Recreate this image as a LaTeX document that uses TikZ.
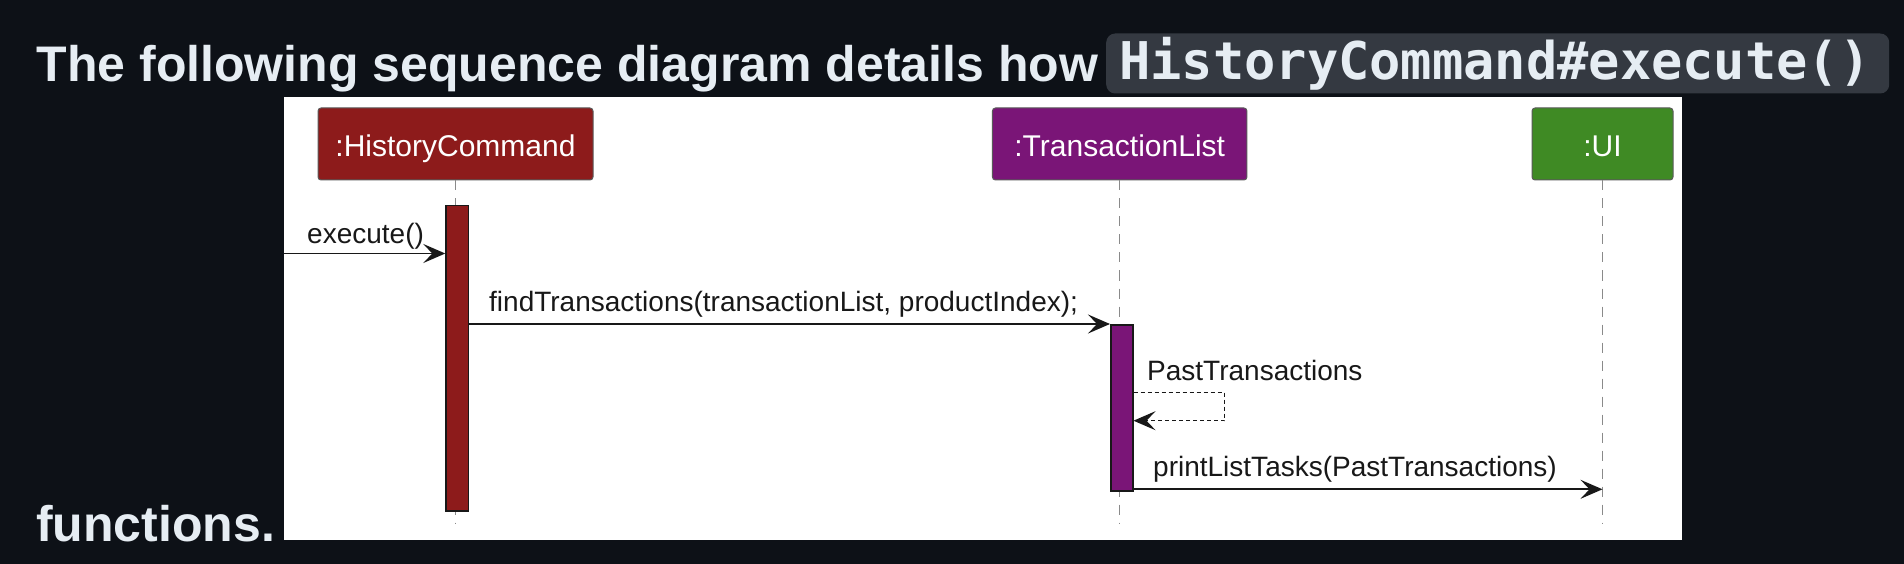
\documentclass[tikz,border=0pt]{standalone}
\usepackage{fontspec}
\setmainfont{Liberation Sans}
\newfontfamily\headfont{Liberation Sans}
\newfontfamily\codefont{DejaVu Sans Mono}
\usetikzlibrary{arrows.meta}
\definecolor{bg}{HTML}{0D1117}
\definecolor{fg}{HTML}{E6EDF3}
\definecolor{codebg}{HTML}{343941}
\definecolor{hcred}{HTML}{8D1B1B}
\definecolor{tlpurple}{HTML}{7A1577}
\definecolor{uigreen}{HTML}{3F8A24}
\definecolor{ink}{HTML}{181818}
\definecolor{life}{HTML}{8A8A8A}
\definecolor{partline}{HTML}{5A5A5A}
\begin{document}
\begin{tikzpicture}[x=1pt,y=-1pt,
  headtext/.style={inner sep=0pt, text=fg, font=\headfont\bfseries\fontsize{50}{60}\selectfont},
  codebox/.style={fill=codebg, rounded corners=9pt, inner sep=0pt},
  codetext/.style={inner sep=0pt, text=fg, font=\codefont\bfseries\fontsize{52}{62}\selectfont},
  part/.style={draw=partline, line width=1pt, rounded corners=3pt, text=white, inner sep=0pt,
    minimum height=72pt, text height=25pt, text depth=0pt, font=\fontsize{30}{36}\selectfont},
  act/.style={draw=ink, line width=1.5pt, inner sep=0pt, anchor=north west},
  lifeline/.style={draw=life, line width=1.5pt, dash pattern=on 10pt off 8pt},
  msg/.style={draw=ink, line width=1.8pt, -{Stealth[length=22pt,width=19pt,inset=9pt]}},
  ret/.style={draw=ink, line width=1.5pt, dash pattern=on 4pt off 3pt, -{Stealth[length=22pt,width=19pt,inset=9pt]}},
  lbl/.style={inner sep=0pt, text=ink, anchor=base west, font=\fontsize{28}{34}\selectfont}]
\useasboundingbox (0,0) rectangle (1904,564);
\fill[bg] (0,0) rectangle (1904,564);

% heading
\node[headtext, anchor=base west] (h1) at (36.5,81.5) {The following sequence diagram details how};
\node[codebox, minimum width=783pt, minimum height=60pt, anchor=north west] (code) at (1106,33.3) {};
\node[codetext, anchor=base west] (codet) at (1119,80) {HistoryCommand\#execute()};
\node[headtext, anchor=base west] (h2) at (36,541) {functions.};

% diagram canvas
\fill[white] (283.5,97) rectangle (1682,539.5);

% participants
\node[part, fill=hcred, minimum width=275pt] (hc) at (455.5,144) {:HistoryCommand};
\node[part, fill=tlpurple, minimum width=254.5pt] (tl) at (1119.7,144) {:TransactionList};
\node[part, fill=uigreen, minimum width=141pt] (ui) at (1602.5,144) {:UI};

% lifelines
\coordinate (hcEnd) at (455.5,523);
\coordinate (tlEnd) at (1119.7,523);
\coordinate (uiEnd) at (1602.5,523);
\draw[lifeline] (hc.south) -- (hcEnd);
\draw[lifeline] (tl.south) -- (tlEnd);
\draw[lifeline] (ui.south) -- (uiEnd);

% activations
\node[act, fill=hcred, minimum width=22.5pt, minimum height=305pt] (hcA) at (445.3,205) {};
\node[act, fill=tlpurple, minimum width=22pt, minimum height=166pt] (tlA) at (1110,324) {};

% messages
\coordinate (exS) at (284,253.5);
\draw[msg] (exS) -- (hcA.west |- exS);
\node[lbl] (exL) at (307,243.3) {execute()};

\draw[msg] (hcA.east |- tlA.north) -- (tlA.north west);
\node[lbl] (ftL) at (489,311) {findTransactions(transactionList, productIndex);};

\coordinate (s1) at (1224.3,392.3);
\coordinate (s2) at (1224.3,420.7);
\draw[ret] (tlA.east |- s1) -- (s1) -- (s2) -- (tlA.east |- s2);
\node[lbl] (ptL) at (1147,380) {PastTransactions};

\coordinate (uiP) at (1602.5,489.3);
\draw[msg] (tlA.east |- uiP) -- (uiP);
\node[lbl] (plL) at (1153,476.7) {printListTasks(PastTransactions)};
\end{tikzpicture}
\end{document}
